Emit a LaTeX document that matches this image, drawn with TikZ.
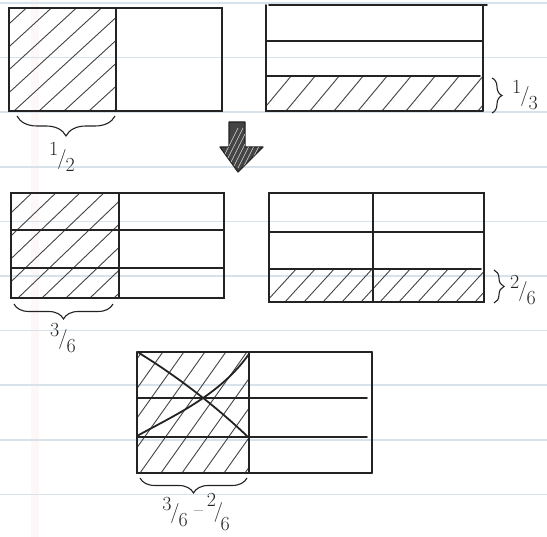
\documentclass[tikz,border=0pt]{standalone}
\usetikzlibrary{decorations.pathreplacing}
\definecolor{ruleblue}{RGB}{216,226,234}
\definecolor{marginpink}{RGB}{252,243,241}
\definecolor{ink}{RGB}{35,35,35}
\newcommand\hf[2]{\raisebox{0.42em}{#1}\kern-0.05em/\kern-0.05em\raisebox{-0.38em}{#2}}
\newcommand\tallhf[2]{\raisebox{0.62em}{#1}\kern-0.12em\raisebox{0.05em}{/}\kern-0.12em\raisebox{-0.62em}{#2}}
\tikzset{
  box/.style={line width=1.6pt, draw=ink, line cap=round},
  hatchline/.style={line width=0.9pt, draw=ink!85, line cap=round},
  crossline/.style={line width=1.8pt, draw=ink, line cap=round},
  bracepath/.style={line width=1.1pt, draw=ink, decorate, decoration={brace, amplitude=#1}},
  lab/.style={font=\fontsize{20}{22}\selectfont, text=ink, inner sep=0pt},
  ruled/.style={line width=1.6pt, draw=ruleblue},
}
\begin{document}
\begin{tikzpicture}[x=1pt,y=-1pt]
\useasboundingbox[fill=white] (0,0) rectangle (547,537);
% notebook background
\fill[marginpink, opacity=0.5] (31,0) rectangle (39,537);
\foreach \k in {0,...,9} \draw[ruled] (0,{3+54.6*\k}) -- (547,{3+54.6*\k});

% ---------- Box 1: one half ----------
\begin{scope}
  \clip (9,8) rectangle (116,111);
  \foreach \i in {-4,...,4} \draw[hatchline] ({14+\i*25},111) -- ++(120,-110);
\end{scope}
\draw[box] (9,8) rectangle (222,111);
\draw[box] (116,8) -- (116,111);
\draw[bracepath=20pt] (115,116) -- (17,116);
\node[lab] (half) at (62,157) {\hf{1}{2}};

% ---------- Box 2: one third ----------
\begin{scope}
  \clip (266,76) rectangle (483,111);
  \foreach \i in {0,...,10} \draw[hatchline] ({262+\i*24},111) -- ++(30,-36);
\end{scope}
\draw[box] (269,5) -- (487,5);
\draw[box] (266,5) -- (266,111) -- (483,111);
\draw[box] (483,5) -- (483,111);
\draw[box] (266,41) -- (483,41);
\draw[box] (266,76) -- (480,76);
\draw[bracepath=10pt] (492,78) -- (492,113);
\node[lab] (third) at (525,95) {\hf{1}{3}};

% ---------- Arrow ----------
\draw[line width=1.2pt, draw=ink, fill=ink!85, line join=round]
  (229,122) -- (245,122) -- (245,147) -- (263,147) -- (238,172) -- (220,147) -- (229,147) -- cycle;
\begin{scope}
  \clip (229,122) -- (245,122) -- (245,147) -- (263,147) -- (238,172) -- (220,147) -- (229,147) -- cycle;
  \foreach \i in {0,...,9} \draw[line width=0.6pt, draw=white!70!gray] ({218+\i*5},168) -- ++(20,-40);
\end{scope}

% ---------- Box 3: three sixths ----------
\begin{scope}
  \clip (11,193) rectangle (119,298);
  \foreach \i in {-5,...,5} \draw[hatchline] ({18+\i*24},298) -- ++(115,-110);
\end{scope}
\draw[box] (11,193) rectangle (224,298);
\draw[box] (119,193) -- (119,298);
\draw[box] (11,230) -- (224,230);
\draw[box] (11,268) -- (224,268);
\draw[bracepath=15pt] (113,304) -- (14,304);
\node[lab] (threesixths) at (63,338) {\hf{3}{6}};

% ---------- Box 4: two sixths ----------
\begin{scope}
  \clip (269,269) rectangle (484,302);
  \foreach \i in {0,...,12} \draw[hatchline] ({266+\i*19},302) -- ++(32,-35);
\end{scope}
\draw[box] (269,193) rectangle (484,302);
\draw[box] (373,193) -- (373,302);
\draw[box] (269,232) -- (484,232);
\draw[box] (269,269) -- (481,269);
\draw[bracepath=10pt] (494,270) -- (494,303);
\node[lab] (twosixths) at (523,290) {\hf{2}{6}};

% ---------- Box 5: difference ----------
\begin{scope}
  \clip (137,352) rectangle (249,473);
  \foreach \i in {-5,...,6} \draw[hatchline] ({140+\i*21},473) -- ++(88,-124);
\end{scope}
\draw[box] (137,352) -- (372,352);
\draw[box] (137,352) -- (137,473) -- (372,473);
\draw[box] (372,352) -- (372,473);
\draw[box] (249,352) -- (249,473);
\draw[box] (137,398) -- (367,398);
\draw[box] (137,437) -- (367,437);
\draw[crossline] (139,353) .. controls (180,378) and (220,410) .. (248,437);
\draw[crossline] (137,436) .. controls (175,415) and (220,395) .. (249,354);
\draw[bracepath=15pt] (247,478) -- (140,478);
\node[lab] (diff) at (196,512) {\hf{3}{6}\hspace{6pt}\raisebox{0.1em}{--}\hspace{4pt}\tallhf{2}{6}};
\end{tikzpicture}
\end{document}
